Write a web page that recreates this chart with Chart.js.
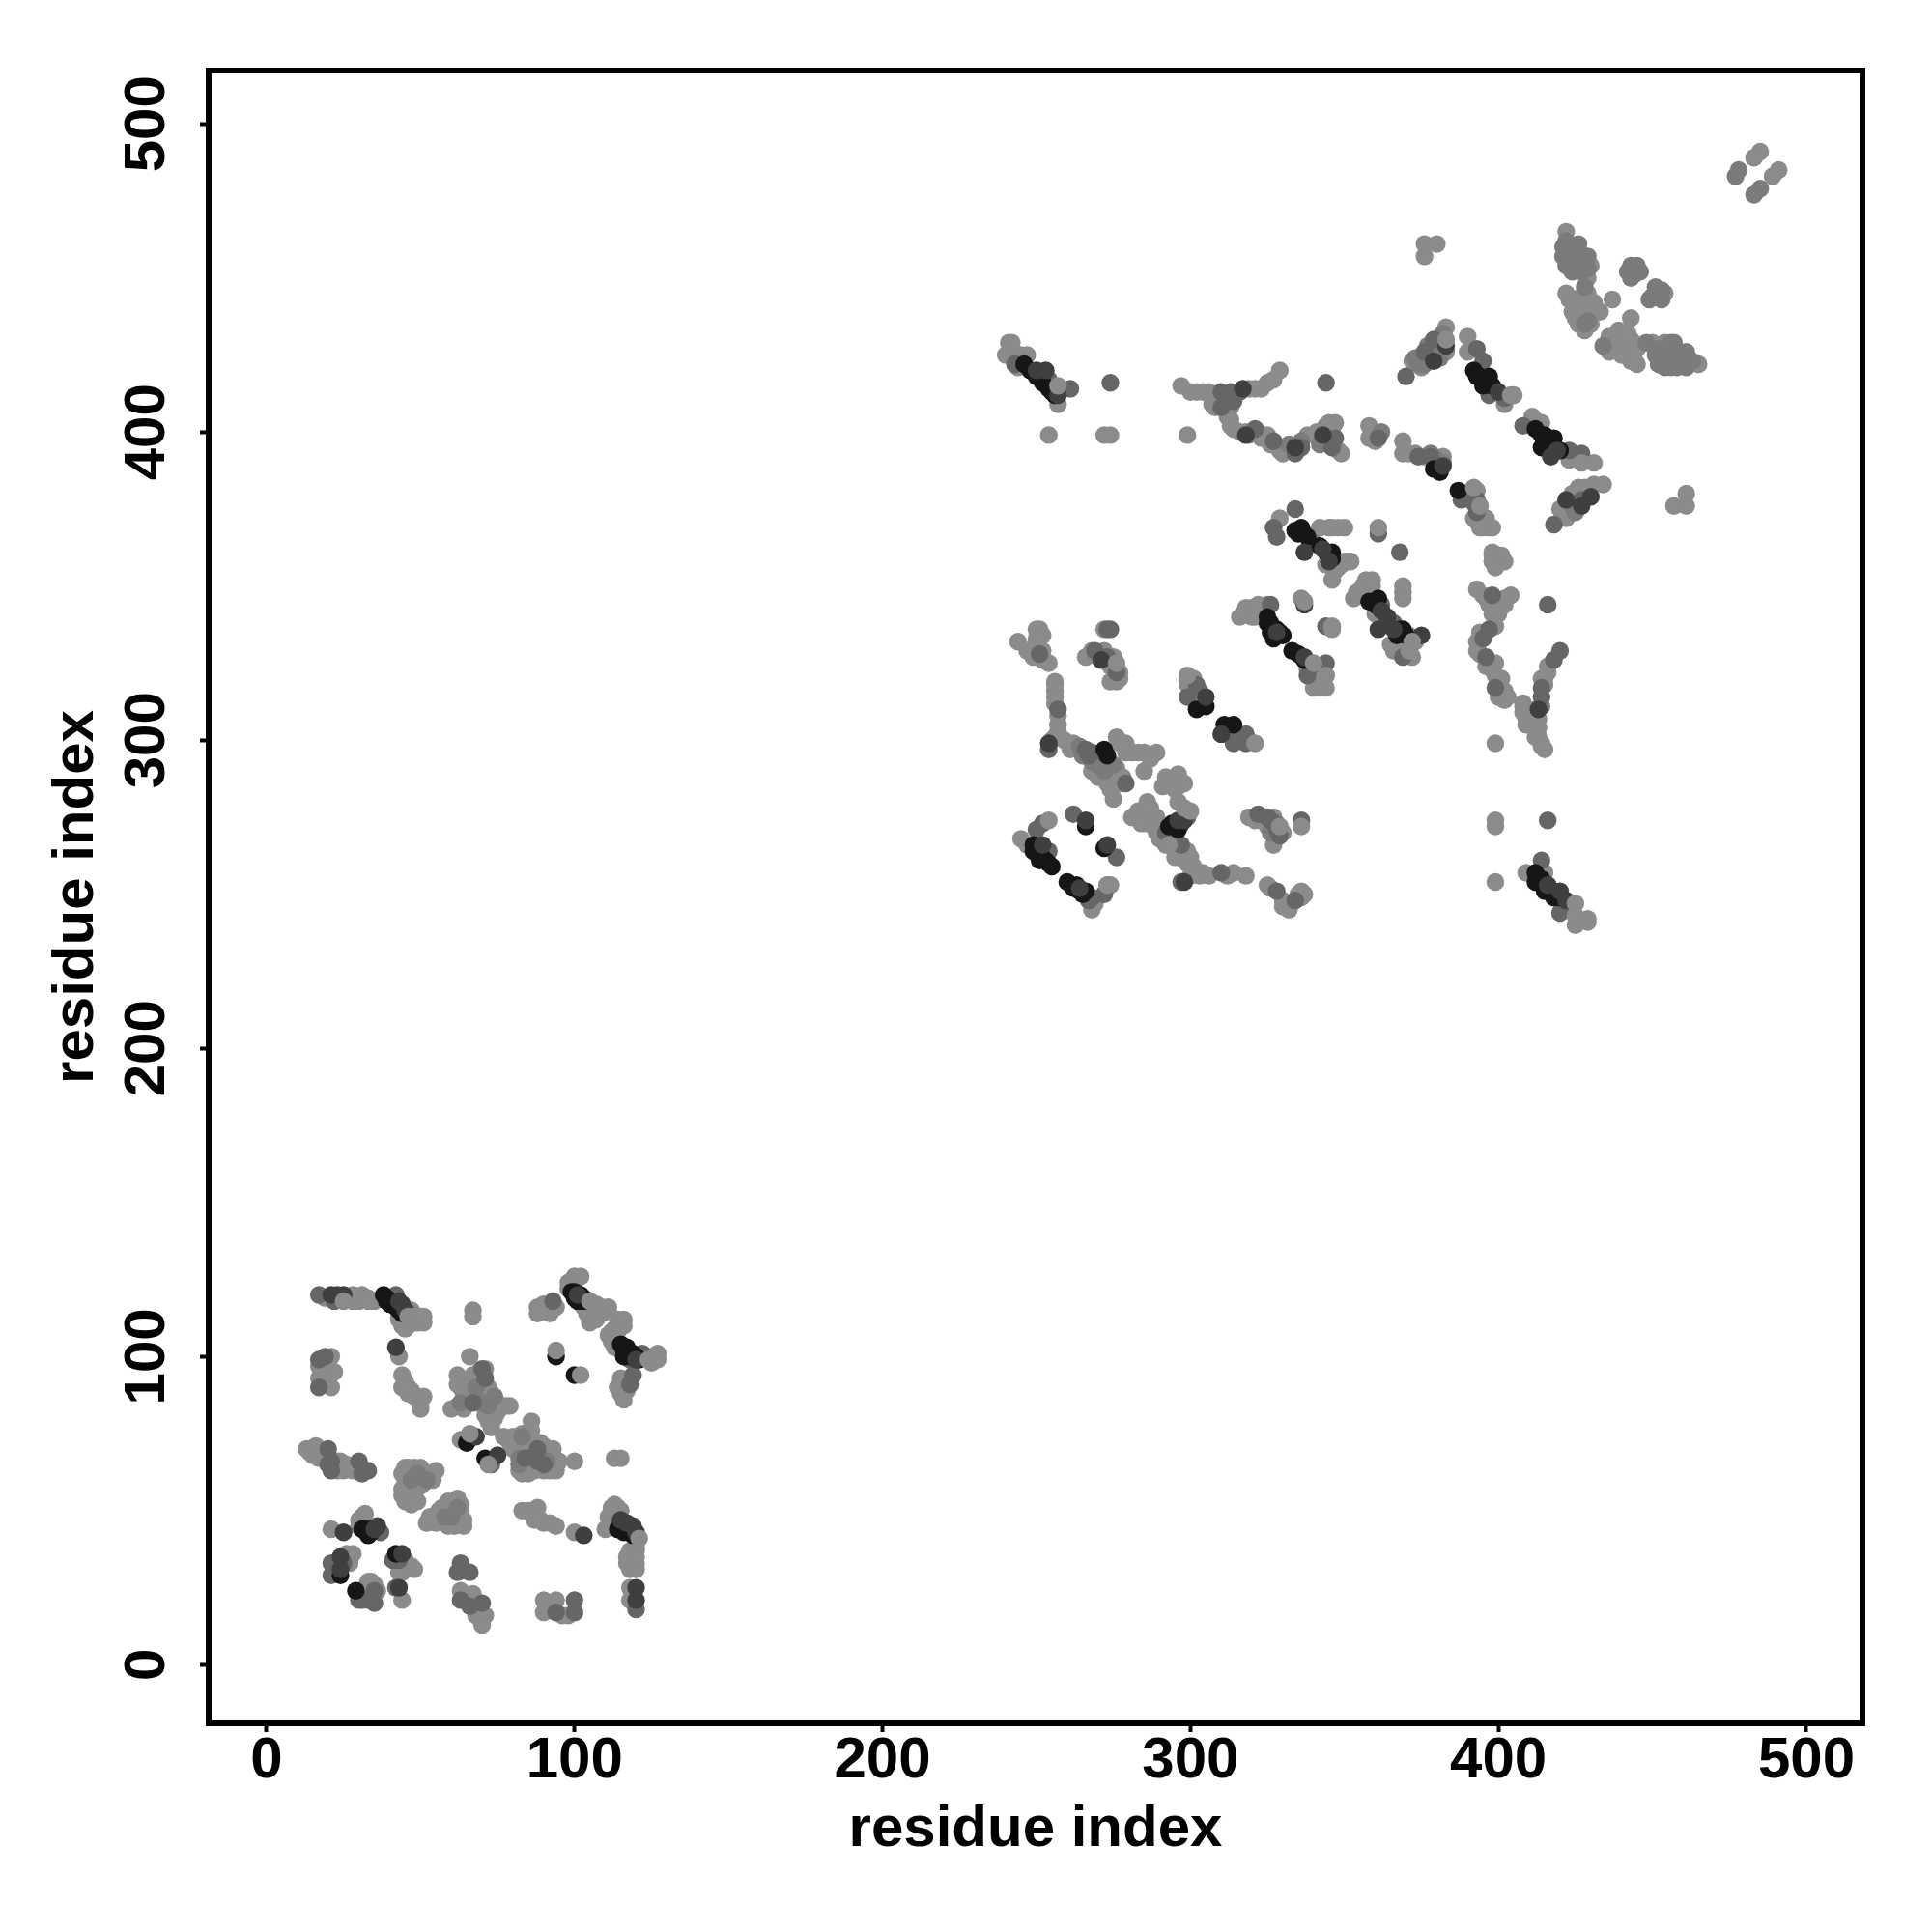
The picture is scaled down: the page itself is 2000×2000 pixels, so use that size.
<!DOCTYPE html>
<html><head><meta charset="utf-8">
<style>html,body{margin:0;padding:0;background:#fff}#w{width:2000px;height:2000px}</style>
<script src="https://cdn.jsdelivr.net/npm/chart.js@4/dist/chart.umd.min.js"></script>
</head><body><div id="w"><canvas id="c" width="2000" height="2000"></canvas></div>
<script>
const tickValues=[0,100,200,300,400,500];
const axisTitle="residue index";
const topPoints=[
[94,102],[102,94],[66,75],[72,65],[46,113],[48,113],[50,113],[105,118],[107,117],[126,100],[124,99],[127,101],[121,41],[25,118],[120,35],
[257,415],[276,325],[273,253],[425,247],[425,243],[346,337],[346,336],[372,332],[371,329],[340,325],[344,321],[254,274],[276,301],[279,299],[300,277],[298,278],[293,266],[392,382],[394,376],
[383,430],[404,412],[405,412],[427,390],[431,390],[299,321],[337,345],[369,350],[361,369],[399,274],[321,299],[329,272],[336,272]
];
const lightPoints=[
[19,119],[28,120],[30,119],[31,120],[33,119],[35,118],[28,118],[30,118],[33,118],[43,113],[51,113],[51,111],[46,110],[44,110],[43,112],[45,112],[47,111],[49,111],[47,115],[44,112],[45,109],[67,115],[67,113],[43,100],
[17,97],[21,100],[18,96],[21,95],[22,95],[17,93],[21,90],[18,91],[44,94],[45,92],[44,90],[46,88],[47,89],[48,87],[50,86],[51,87],[50,84],[50,83],[46,90],
[66,100],[62,94],[66,92],[63,90],[64,88],[67,94],[69,95],[72,90],[73,88],[75,85],[79,84],[72,86],[74,82],[72,79],[74,80],[60,83],[64,83],[65,90],[66,87],[63,73],
[62,91],[62,84],[68,88],[69,87],[71,83],[71,81],[74,84],[75,82],[73,77],[70,90],[68,92],[71,96],[69,92],[76,84],[70,88],[78,84],
[86,79],[81,73],[79,72],[83,72],[77,74],[85,72],[92,69],[93,70],[85,64],[83,62],[88,65],[94,63],[100,66],[113,67],[115,67],
[80,74],[84,70],[86,70],[89,72],[90,71],[87,63],[85,62],[90,63],[92,63],[82,63],[80,70],[83,75],[86,76],[86,73],[89,68],[94,65],[95,66],
[13,70],[16,71],[15,68],[17,67],[24,66],[25,63],[14,69],[16,69],[18,69],[19,68],[22,64],[23,66],[23,63],[26,65],[28,63],
[45,64],[48,64],[45,60],[51,59],[45,53],[48,55],[46,56],[50,58],[55,63],[44,62],[46,64],[47,62],[50,64],[52,62],[53,61],[46,58],[49,60],[44,55],[46,53],[49,53],[47,52],[54,60],[44,57],
[62,54],[59,53],[56,50],[52,46],[55,46],[58,46],[63,48],[64,45],[61,45],[60,50],[61,52],[63,52],[56,47],[54,48],[53,48],[62,47],[64,47],[57,51],[59,45],[63,50],
[21,44],[31,48],[30,45],[32,49],[30,47],[32,45],[45,34],[48,31],[47,32],[44,30],[43,30],[27,34],[28,36],[26,36],[27,33],[34,27],[33,27],[35,26],[36,24],[32,25],[32,23],[44,21],[63,24],[67,23],[68,16],[71,16],[70,13],[90,21],[94,21],[90,17],[98,16],[96,16],[118,25],[118,21],
[83,50],[88,51],[87,47],[90,46],[94,45],[100,43],[85,50],[86,49],[89,47],[92,46],[112,51],[110,44],[115,50],[111,48],[113,52],[114,51],[112,47],[117,35],[117,33],[120,33],[118,37],[120,37],[118,31],[120,31],[119,34],[120,38],
[100,126],[102,126],[98,122],[88,116],[90,117],[94,116],[90,115],[92,114],[88,114],[98,124],[99,124],[100,124],[111,116],[105,111],[109,114],[103,116],[104,114],[105,113],[106,115],[108,116],[107,112],[109,116],
[116,110],[112,105],[114,108],[112,108],[111,107],[113,109],[114,112],[116,112],[113,103],[126,100],[124,100],[125,98],[127,99],[115,93],[115,88],[115,91],[117,89],[114,90],[116,86],
[251,336],[250,336],[244,332],[247,329],[250,332],[254,325],[252,326],[250,333],[252,334],[249,327],[252,329],[272,336],[266,327],[272,329],[276,319],[274,319],[268,329],[270,327],[275,327],[274,324],[277,322],[277,320],
[256,318],[256,314],[257,305],[256,301],[262,299],[261,297],[256,319],[256,316],[256,312],[257,308],[257,303],[255,300],[259,300],[268,290],[270,288],[279,296],[285,296],[289,296],[285,290],[287,294],[283,296],[281,296],[277,299],[275,288],[273,286],[275,281],[276,288],[277,286],[274,284],[273,290],[276,291],[278,288],
[296,289],[291,285],[293,287],[296,285],[296,280],[286,280],[281,275],[286,275],[289,275],[285,273],[292,288],[294,286],[295,284],[298,286],[283,277],[284,273],[287,278],[288,272],[289,270],[291,268],[290,268],[292,266],[295,262],[299,264],[298,261],[300,262],[299,260],[301,259],[300,256],[303,256],[304,257],[306,256],[314,257],[318,256],[312,256],
[319,275],[327,266],[321,274],[323,275],[325,272],[327,275],[330,270],[325,253],[330,248],[332,245],[336,251],[336,249],[326,252],[331,247],[330,246],[335,250],[337,250],[269,247],[268,245],[273,253],[274,253],[245,268],[247,266],
[299,318],[302,314],[301,320],[318,343],[317,341],[320,343],[325,344],[321,340],[318,342],[320,340],[322,342],[324,341],[316,340],
[329,372],[346,356],[352,358],[349,357],[351,358],[348,356],[350,358],[347,355],[344,357],[346,352],[346,369],[350,369],[348,369],[342,369],[345,369],[369,348],[369,346],[336,346],
[359,352],[356,350],[353,346],[355,348],[354,348],[357,352],[358,349],[356,347],[359,350],[360,341],[366,329],[373,332],[370,331],[368,329],[367,331],[372,327],[371,334],[365,331],[322,344],[344,321],[340,317],[344,317],[341,321],[343,323],[341,319],[342,317],[340,322],[338,323],[343,319],
[395,369],[397,369],[393,371],[396,372],[398,369],[392,372],[398,361],[402,358],[398,358],[400,360],[398,360],[401,360],[399,356],[393,349],[404,347],[402,344],[396,346],[395,347],[397,344],[399,345],[400,343],[402,346],[400,341],[398,341],[399,337],[394,335],[393,329],[393,332],[394,328],[396,324],[398,323],[399,325],[399,321],[400,318],[401,320],[402,313],[401,315],[400,314],[402,316],[403,314],
[408,312],[408,309],[409,307],[408,311],[409,305],[411,308],[412,310],[411,305],[413,307],[413,301],[414,320],[415,318],[415,320],[416,322],[416,324],[413,304],[414,299],[415,297],[412,301],[414,298],[399,299],
[420,375],[422,372],[426,382],[431,383],[434,383],[423,375],[424,380],[428,382],[429,380],[427,381],[421,373],[399,272],[399,254],[409,257],[415,257],[425,240],[429,241],[429,242],
[485,491],[483,489],[491,485],[489,483],[376,461],[380,461],[376,457],[422,465],[430,454],[429,450],[422,445],[427,444],[429,445],[437,443],[425,437],[430,438],[433,439],[428,439],[426,441],[430,441],
[424,443],[425,440],[427,441],[424,439],[426,435],[430,435],[431,442],[429,442],[423,443],[428,433],[430,440],
[454,445],[443,437],[439,433],[436,426],[438,430],[443,430],[445,427],[443,423],[445,422],[450,429],[454,429],[465,422],[436,431],[437,428],[439,431],[441,430],[441,427],[440,425],[444,425],[442,432],
[383,434],[372,423],[383,426],[375,421],[390,431],[390,426],[402,409],[411,405],[414,403],[423,391],
[369,397],[369,393],[382,392],[393,381],[394,369],[461,380],[457,376],[461,376],[371,393],[373,393],[376,392],
[241,429],[242,429],[240,425],[244,421],[247,425],[245,425],[257,409],[254,399],[272,399],[274,399],[299,399],
[297,415],[300,413],[302,413],[304,413],[306,413],[308,412],[307,409],[308,408],[310,410],[313,408],[319,414],[321,414],[323,414],[325,416],[327,417],[329,420],[313,402],[313,404],[312,405],[314,401],[316,400],[318,400],[319,399],[322,400],[325,399],[323,398],[326,396],[329,394],[331,394],[330,393],[338,399],[341,400],[344,402],[345,403],[347,403],[346,401],[345,400],[349,393],[348,394],[358,402],[358,398],[359,400],[360,397]
];
const softPoints=[
[478,485],[477,483],[485,479],[483,477],[421,460],[421,457],[426,461],[422,454],[426,457],[429,457],[427,454],[422,462],[423,460],[424,458],[422,456],[424,455],[424,452],[426,459],[427,452],[429,453],[428,447],[428,435],[429,436],
[443,454],[445,454],[443,450],[446,452],[442,452],[444,451],[450,444],[453,446],[451,445],[452,444],[449,443],[451,447],[453,443],
[434,428],[457,429],[454,424],[457,424],[461,426],[454,421],[458,421],[461,421],[451,425],[452,427],[456,426],[459,423],[452,422],[456,421],[460,423],[463,423],[448,429],[456,429],
[373,424],[374,422],[377,428],[380,425],[381,427],[382,432],[381,424],[379,426],[377,424],[376,422],
[340,364],[264,298],[265,295],[342,396],[344,397],[336,397],[332,396],[362,400],[414,311],[326,270],[328,273],[378,393],[380,391],[382,390],[270,292],[272,290],[268,293],[275,292],[293,270],[303,316],[424,376],[425,374],
[68,90],[72,84],[63,85],[70,85],[74,87],[82,65],[82,67],[87,68],[91,66],[83,74],[47,60],[49,62],[52,60],[60,48],[58,48],[62,51]
];
const midPoints=[
[17,120],[22,118],[17,99],[19,100],[17,90],[70,96],[71,93],[67,85],[88,70],[88,66],[84,67],[90,65],[73,65],
[20,70],[21,66],[20,65],[21,63],[30,66],[31,62],[33,63],[37,43],[41,34],[43,34],[21,33],[25,33],[21,29],[30,21],[31,21],[35,20],[35,24],[33,21],[42,25],[63,33],[66,30],[62,30],[63,21],[66,19],[70,20],[100,21],[94,17],[100,17],[120,18],
[93,118],[46,114],[42,120],[118,99],[122,101],[119,94],[118,91],[120,99],
[251,328],[269,329],[273,327],[276,322],[273,336],[274,336],[257,310],[254,297],[266,297],[267,295],[268,296],[279,286],[299,275],[292,270],[297,266],[297,254],[310,257],
[322,276],[325,275],[326,274],[328,271],[329,269],[336,274],[328,251],[334,248],[252,273],[250,271],[262,276],[276,262],[268,249],[272,250],[254,264],
[302,318],[299,314],[314,302],[318,302],[314,299],[318,299],[334,375],[327,369],[328,366],[337,367],[361,367],[368,361],[344,337],[362,344],[364,339],[366,338],[369,327],[326,344],[344,325],[338,321],
[388,378],[392,377],[393,374],[388,379],[398,347],[397,336],[395,333],[396,327],[399,317],[414,314],[414,317],[418,326],[420,329],[416,344],[418,370],[427,378],[416,274],[414,261],[420,244],
[379,430],[376,426],[370,418],[393,427],[395,423],[397,412],[408,402],[423,394],[427,393],[374,392],[378,392],
[393,378],[393,375],[254,417],[261,414],[243,422],[274,416],[310,413],[313,413],[310,408],[321,401],[327,397],[334,393],[336,395],[347,398],[346,395],[344,416],[361,398],[422,247],[402,411],[339,324],[267,248],[312,410],[314,410],[316,413]
];
const darkPoints=[
[21,120],[25,120],[23,120],[43,118],[44,117],[45,115],[42,103],[68,74],[75,68],[25,43],[36,45],[44,36],[24,35],[24,31],[43,25],[120,25],[120,21],[103,42],[115,47],[117,46],[119,45],[120,43],[101,120],[120,99],[35,44],
[254,299],[296,274],[298,274],[298,275],[298,254],[252,266],[266,274],[273,266],[264,252],[271,326],
[305,314],[310,302],[337,361],[343,362],[345,358],[337,344],[361,336],[375,334],[328,335],[337,327],[413,310],[416,253],[420,251],[422,248],[422,378],[430,379],[427,376],
[379,423],[383,428],[419,394],[417,392],[382,389],[250,420],[253,420],[257,412],[317,414],[318,399],[334,395],[343,399],[400,413],[362,342],[364,340],[366,336]
];
const blackPoints=[
[39,119],[38,120],[39,118],[40,118],[40,117],[41,117],[42,117],[42,116],[43,115],[44,114],[65,72],[71,67],[31,44],[32,44],[33,43],[33,42],[34,44],[34,43],[42,36],[24,29],[29,24],[99,121],[100,121],[100,119],[102,120],[103,119],[103,118],[101,118],[114,44],[115,46],[116,45],[116,43],[117,44],[118,43],[119,42],[120,42],[115,104],[116,102],[117,103],[117,101],[118,100],[119,101],[116,100],[120,100],[121,99],[94,100],[100,94],
[272,297],[273,295],[294,273],[295,272],[296,271],[297,274],[297,273],[293,272],[249,266],[249,264],[250,264],[251,261],[252,262],[253,261],[254,260],[255,259],[266,272],[272,265],[260,254],[262,252],[263,253],[264,251],[265,250],[266,251],
[302,310],[305,311],[311,305],[314,305],[325,340],[325,338],[326,338],[326,335],[327,333],[328,336],[329,335],[330,334],[333,329],[335,328],[337,326],[336,369],[334,368],[335,367],[338,366],[342,363],[344,361],[346,361],[346,359],[358,345],[360,344],[361,346],[368,336],[369,336],[370,334],[367,334],
[387,381],[412,257],[412,254],[413,254],[414,255],[415,251],[416,253],[418,251],[418,249],[420,249],[392,420],[393,418],[394,418],[396,416],[397,418],[395,415],[398,415],[412,401],[415,399],[414,399],[416,397],[418,398],[418,396],[414,395],[420,394],[379,388],[381,387],[246,422],[248,420],[250,418],[252,416],[254,414],[255,413],[256,412]
];
const toneColors=["#8b8b8b","#3f3f3f","#161616","#666666","#7b7b7b","#8b8b8b"];
const allSeries=[topPoints,darkPoints,blackPoints,midPoints,softPoints,lightPoints];
const font={family:"'Liberation Sans'",weight:"bold",size:60,lineHeight:1};
const frame={id:"frame",afterDraw(ch){const a=ch.chartArea,c=ch.ctx;c.save();c.strokeStyle="#000";c.lineWidth=6;c.lineJoin="miter";c.strokeRect(a.left,a.top,a.right-a.left,a.bottom-a.top);c.restore();}};
const placeTicks=s=>{s.ticks=tickValues.map(v=>({value:v}));};
new Chart(document.getElementById("c"),{
type:"scatter",
data:{datasets:allSeries.map((pts,i)=>({data:pts.map(p=>({x:p[0],y:p[1]})),backgroundColor:toneColors[i],borderWidth:0,pointRadius:9.2,pointHoverRadius:9.2}))},
plugins:[frame],
options:{responsive:false,animation:false,
layout:{padding:{left:0,right:72,top:73,bottom:0}},
plugins:{legend:{display:false},tooltip:{enabled:false}},
scales:{
x:{type:"linear",min:-18.8,max:518.2,afterBuildTicks:placeTicks,afterFit:s=>{s.height=216;},
border:{display:false},
grid:{drawOnChartArea:false,drawTicks:true,tickLength:9,tickWidth:4,tickColor:"#000"},
ticks:{color:"#000",font,padding:0,maxRotation:0,minRotation:0,autoSkip:false,includeBounds:false},
title:{display:true,text:axisTitle,color:"#000",font,padding:{top:0,bottom:76}}},
y:{type:"linear",min:-19,max:517.3,afterBuildTicks:placeTicks,afterFit:s=>{s.width=216;},
border:{display:false},
grid:{drawOnChartArea:false,drawTicks:true,tickLength:9,tickWidth:4,tickColor:"#000"},
ticks:{color:"#000",font,padding:3,minRotation:90,maxRotation:90,autoSkip:false,includeBounds:false,crossAlign:"center"},
title:{display:true,text:axisTitle,color:"#000",font,padding:{top:49,bottom:0}}}
}}});
</script></body></html>
